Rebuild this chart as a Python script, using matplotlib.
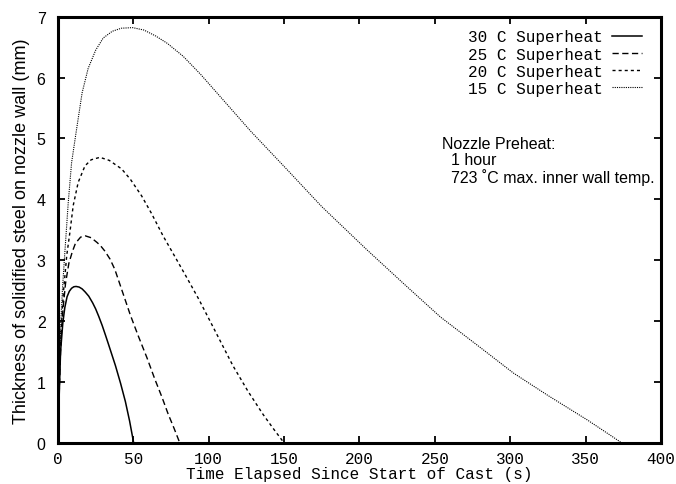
import numpy as np
import matplotlib
matplotlib.use("Agg")
import matplotlib.pyplot as plt

# solidified shell thickness (mm) vs time (s)
t30 = [0, 0.5, 1, 1.7, 3.2, 4.5, 6, 7.5, 9, 10.5, 12, 14, 16, 18, 20.4, 23, 25, 27, 29.3, 31.5, 33.5,
       36, 38.1, 41.5, 44.7, 47.5, 50.2]
v30 = [0, 0.55, 0.94, 1.5, 1.97, 2.22, 2.4, 2.49, 2.54, 2.565, 2.57, 2.56, 2.53, 2.48, 2.41, 2.3, 2.2,
       2.08, 1.93, 1.77, 1.62, 1.43, 1.27, 0.98, 0.68, 0.36, 0]

t25 = [0, 1, 2, 3.3, 5, 7.2, 9.5, 11.6, 15, 18.2, 22, 26, 28.5, 31.1, 34.5, 37.7, 43.2, 48, 53.2, 59,
       64.2, 69, 73, 77, 80.8]
v25 = [0, 1.0, 1.7, 2.2, 2.62, 2.95, 3.14, 3.28, 3.38, 3.40, 3.37, 3.29, 3.23, 3.15, 3.02, 2.85, 2.45,
       2.1, 1.76, 1.4, 1.05, 0.75, 0.48, 0.24, 0]

t20 = [0, 1, 2, 3.5, 5.8, 7.9, 10.1, 13.4, 17.9, 22, 27.8, 34, 42.2, 48, 55.4, 62, 69.7, 78, 86,
       93.4, 104, 116, 126, 136, 143, 150]
v20 = [0, 1.15, 1.8, 2.45, 3.08, 3.46, 3.9, 4.28, 4.55, 4.65, 4.69, 4.64, 4.5, 4.33, 4.06, 3.77, 3.4, 3.04, 2.69,
       2.36, 1.85, 1.27, 0.85, 0.47, 0.23, 0]

t15 = [0, 1, 2, 3, 4.6, 6.8, 9, 12, 16, 20, 25, 30, 36, 42, 49.5, 57, 65, 72.6, 83, 94.7, 110, 127.8,
       150, 175, 205, 230, 253.6, 280, 302, 325, 351, 365, 374]
v15 = [0, 1.4, 2.05, 2.55, 3.15, 3.95, 4.6, 5.1, 5.75, 6.15, 6.45, 6.65, 6.76, 6.81, 6.82, 6.78, 6.68, 6.56,
       6.35, 6.05, 5.62, 5.12, 4.54, 3.88, 3.17, 2.6, 2.07, 1.57, 1.15, 0.78, 0.38, 0.15, 0]

labels = ["30 C Superheat", "25 C Superheat", "20 C Superheat", "15 C Superheat"]
xticks = [0, 50, 100, 150, 200, 250, 300, 350, 400]
yticks = [0, 1, 2, 3, 4, 5, 6, 7]

mono = "Liberation Mono"
sans = "Liberation Sans"

fig = plt.figure(figsize=(6.76, 4.85), dpi=100)
ax = fig.add_axes([0.0858, 0.0846, 0.892, 0.879])

ax.plot(t30, v30, color="black", lw=1.1, ls="-", label=labels[0])
ax.plot(t25, v25, color="black", lw=1.0, ls=(0, (4.5, 2.5)), label=labels[1])
ax.plot(t20, v20, color="black", lw=1.0, ls=(0, (2.2, 2.2)), label=labels[2])
ax.plot(t15, v15, color="black", lw=0.8, ls=(0, (1, 1)), label=labels[3])

ax.set_xlim(0, 400)
ax.set_ylim(0, 7)
ax.set_xticks(xticks)
ax.set_yticks(yticks)
ax.tick_params(direction="in", length=5, width=1.3, top=True, right=True)
ax.tick_params(axis="x", pad=6)
ax.tick_params(axis="y", pad=9)
for lab in ax.get_xticklabels():
    lab.set_fontfamily(mono)
    lab.set_fontsize(11.5)
for lab in ax.get_yticklabels():
    lab.set_fontfamily(sans)
    lab.set_fontsize(11.5)
for s in ax.spines.values():
    s.set_linewidth(2.2)

ax.set_xlabel("Time Elapsed Since Start of Cast (s)", fontfamily=mono, fontsize=11.5, labelpad=0)
ax.set_ylabel("Thickness of solidified steel on nozzle wall (mm)", fontfamily=sans, fontsize=13, labelpad=5)

leg = ax.legend(loc="upper right", bbox_to_anchor=(0.99, 1.0), frameon=False, markerfirst=False,
                prop={"family": mono, "size": 11.5}, handlelength=1.9,
                handletextpad=0.55, labelspacing=0.13, borderaxespad=0.4)

ax.text(0.637, 0.72, "Nozzle Preheat:\n  1 hour\n  723 \u02daC max. inner wall temp.",
        transform=ax.transAxes, fontfamily=sans, fontsize=11.5, va="top", ha="left", linespacing=1.07)

fig.savefig("out.png", dpi=100)
